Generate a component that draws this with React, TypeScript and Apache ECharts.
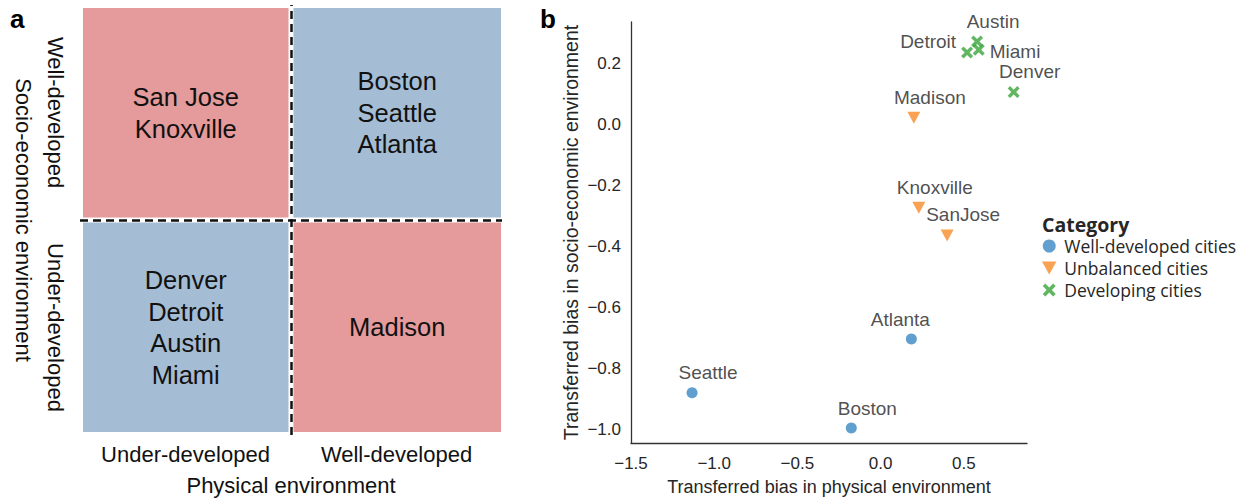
import React, { useEffect, useRef } from "react";
import * as echarts from "echarts";

// ---------- Panel a: 2x2 quadrant ----------
const quadCols = [0, 1, 0, 1]; // 0 = Under-developed, 1 = Well-developed (physical)
const quadRows = [1, 1, 0, 0]; // 1 = Well-developed, 0 = Under-developed (socio-economic)
const quadTexts = ["San Jose\nKnoxville", "Boston\nSeattle\nAtlanta", "Denver\nDetroit\nAustin\nMiami", "Madison"];
const quadKinds = ["unbalanced", "balanced", "balanced", "unbalanced"];
const levelLabels = ["Under-developed", "Well-developed"];

// ---------- Panel b: scatter ----------
const wellNames = ["Boston", "Seattle", "Atlanta"];
const wellX = [-0.176, -1.133, 0.185];
const wellY = [-0.995, -0.879, -0.703];

const unbalNames = ["Madison", "Knoxville", "SanJose"];
const unbalX = [0.2, 0.23, 0.4];
const unbalY = [0.023, -0.272, -0.363];

const devNames = ["Detroit", "Austin", "Miami", "Denver"];
const devX = [0.52, 0.58, 0.59, 0.8];
const devY = [0.237, 0.273, 0.246, 0.107];

const xTicks = [-1.5, -1.0, -0.5, 0.0, 0.5];
const yTicks = [-1.0, -0.8, -0.6, -0.4, -0.2, 0.0, 0.2];

const categoryNames = ["Well-developed cities", "Unbalanced cities", "Developing cities"];

// label placement tweaks (layout, not data)
const labelPlacement: Record<string, { position: string; offset: number[] }> = {
  Atlanta: { position: "top", offset: [-11, 0] },
  Detroit: { position: "left", offset: [0, -11] },
  Miami: { position: "right", offset: [0, 2] },
};

const COLORS = {
  blue: "#3a87c2",
  orange: "#f78b28",
  green: "#3aa53a",
  quadRed: "#e59a9b",
  quadBlue: "#a4bdd5",
};

const SANS = "'Liberation Sans', Arial, Helvetica, sans-serif";
const LEG = "'Open Sans', 'Noto Sans', sans-serif";

const X_SYMBOL =
  "path://M2,0 L5,3 L8,0 L10,2 L7,5 L10,8 L8,10 L5,7 L2,10 L0,8 L3,5 L0,2 Z";
const TRI_DOWN = "path://M0,0 L10,0 L5,9 Z";

const fmt = (v: number) => (v < 0 ? "\u2212" : "") + Math.abs(v).toFixed(1);

function pts(names: string[], xs: number[], ys: number[]) {
  return names.map((n, i) => {
    const lp = labelPlacement[n];
    const item: any = { name: n, value: [xs[i], ys[i]] };
    if (lp) item.label = { position: lp.position, offset: lp.offset };
    return item;
  });
}

export default function App() {
  const ref = useRef<HTMLDivElement>(null);
  useEffect(() => {
    if (!ref.current) return;
    const chart = echarts.init(ref.current, undefined, { renderer: "svg" });
    const scatterLabel = {
      show: true,
      formatter: "{b}",
      position: "top",
      offset: [16, 0],
      distance: 5,
      fontFamily: SANS,
      fontSize: 19,
      color: "#222",
    };
    const option: any = {
      animation: false,
      backgroundColor: "#ffffff",
      title: [
        {
          text: "Category",
          left: 1042,
          top: 214,
          padding: 0,
          textStyle: { fontFamily: LEG, fontSize: 19.5, lineHeight: 20, fontWeight: "bold", color: "#262626" },
        },
      ],
      legend: {
        orient: "vertical",
        left: 1042,
        top: 237,
        padding: 0,
        itemWidth: 20,
        itemHeight: 13,
        itemGap: 4,
        data: categoryNames,
        textStyle: { fontFamily: LEG, fontSize: 17.5, lineHeight: 17, color: "#262626" },
      },
      graphic: [
        { type: "text", left: 10, top: 6, style: { text: "a", fontFamily: SANS, fontSize: 26, fontWeight: "bold", fill: "#000" } },
        { type: "text", left: 540, top: 6, style: { text: "b", fontFamily: SANS, fontSize: 26, fontWeight: "bold", fill: "#000" } },
      ],
      grid: [
        { left: 80, width: 422, top: 5, height: 431 },
        { left: 631, width: 396, top: 22, height: 426 },
      ],
      xAxis: [
        {
          gridIndex: 0,
          type: "value",
          min: 0,
          max: 2,
          name: "Physical environment",
          nameLocation: "middle",
          nameGap: 39,
          nameTextStyle: { fontFamily: SANS, fontSize: 22, color: "#111" },
          axisLine: { show: false },
          axisTick: { show: false },
          splitLine: { show: false },
          axisLabel: {
            customValues: [0.5, 1.5],
            formatter: (v: number) => levelLabels[v > 1 ? 1 : 0],
            margin: 8,
            fontFamily: SANS,
            fontSize: 22,
            color: "#111",
          },
        },
        {
          gridIndex: 1,
          type: "value",
          min: -1.5,
          max: 0.88,
          name: "Transferred bias in physical environment",
          nameLocation: "middle",
          nameGap: 35,
          nameTextStyle: { fontFamily: SANS, fontSize: 18, color: "#262626" },
          axisLine: { show: true, onZero: false, lineStyle: { color: "#333", width: 1.3 } },
          axisTick: { show: false },
          splitLine: { show: false },
          axisLabel: {
            customValues: xTicks,
            formatter: fmt,
            margin: 12,
            fontFamily: SANS,
            fontSize: 17,
            color: "#262626",
          },
        },
      ],
      yAxis: [
        {
          gridIndex: 0,
          type: "value",
          min: 0,
          max: 2,
          name: "Socio-economic environment",
          nameLocation: "middle",
          nameRotate: -90,
          nameGap: 46,
          nameTextStyle: { fontFamily: SANS, fontSize: 22, color: "#111" },
          axisLine: { show: false },
          axisTick: { show: false },
          splitLine: { show: false },
          axisLabel: {
            customValues: [0.5, 1.5],
            formatter: (v: number) => levelLabels[v > 1 ? 1 : 0],
            rotate: -90,
            margin: 14,
            fontFamily: SANS,
            fontSize: 22,
            color: "#111",
          },
        },
        {
          gridIndex: 1,
          type: "value",
          min: -1.044,
          max: 0.337,
          name: "Transferred bias in socio-economic environment",
          nameLocation: "middle",
          nameRotate: 90,
          nameGap: 50,
          nameTextStyle: { fontFamily: SANS, fontSize: 19.5, color: "#262626" },
          axisLine: { show: true, onZero: false, lineStyle: { color: "#333", width: 1.3 } },
          axisTick: { show: false },
          splitLine: { show: false },
          axisLabel: {
            customValues: yTicks,
            formatter: fmt,
            margin: 10,
            fontFamily: SANS,
            fontSize: 17,
            color: "#262626",
          },
        },
      ],
      series: [
        {
          type: "custom",
          xAxisIndex: 0,
          yAxisIndex: 0,
          silent: true,
          data: quadCols.map((c, i) => [c, quadRows[i]]),
          renderItem: (params: any, api: any) => {
            const i = params.dataIndex;
            const c = quadCols[i];
            const r = quadRows[i];
            const p0 = api.coord([c, r + 1]);
            const p1 = api.coord([c + 1, r]);
            const g = 2.5;
            const x0 = p0[0] + (c === 1 ? g : 3);
            const x1 = p1[0] - (c === 0 ? g : 1);
            const y0 = p0[1] + (r === 0 ? g : 3);
            const y1 = p1[1] - (r === 1 ? g : 3);
            return {
              type: "group",
              children: [
                {
                  type: "rect",
                  shape: { x: x0, y: y0, width: x1 - x0, height: y1 - y0 },
                  style: { fill: quadKinds[i] === "unbalanced" ? COLORS.quadRed : COLORS.quadBlue },
                },
                {
                  type: "text",
                  x: (x0 + x1) / 2,
                  y: (y0 + y1) / 2,
                  style: {
                    text: quadTexts[i],
                    fontFamily: SANS,
                    fontSize: 25.5,
                    lineHeight: 31.5,
                    fill: "#111",
                    align: "center",
                    verticalAlign: "middle",
                  },
                },
              ],
            };
          },
          markLine: {
            silent: true,
            symbol: "none",
            label: { show: false },
            lineStyle: { color: "#111", width: 2.5, type: [8, 5] },
            data: [{ xAxis: 1 }, { yAxis: 1 }],
          },
        },
        {
          name: categoryNames[0],
          type: "scatter",
          xAxisIndex: 1,
          yAxisIndex: 1,
          symbol: "circle",
          symbolSize: 11,
          itemStyle: { color: COLORS.blue },
          label: scatterLabel,
          data: pts(wellNames, wellX, wellY),
        },
        {
          name: categoryNames[1],
          type: "scatter",
          xAxisIndex: 1,
          yAxisIndex: 1,
          symbol: TRI_DOWN,
          symbolSize: [13, 12],
          itemStyle: { color: COLORS.orange },
          label: scatterLabel,
          data: pts(unbalNames, unbalX, unbalY),
        },
        {
          name: categoryNames[2],
          type: "scatter",
          xAxisIndex: 1,
          yAxisIndex: 1,
          symbol: X_SYMBOL,
          symbolSize: 12,
          itemStyle: { color: COLORS.green },
          label: scatterLabel,
          data: pts(devNames, devX, devY),
        },
      ],
    };
    chart.setOption(option);
    return () => chart.dispose();
  }, []);
  return (
    <div
      ref={ref}
      style={{ position: "fixed", left: 0, top: 0, width: 1247, height: 501, background: "#fff" }}
    />
  );
}
